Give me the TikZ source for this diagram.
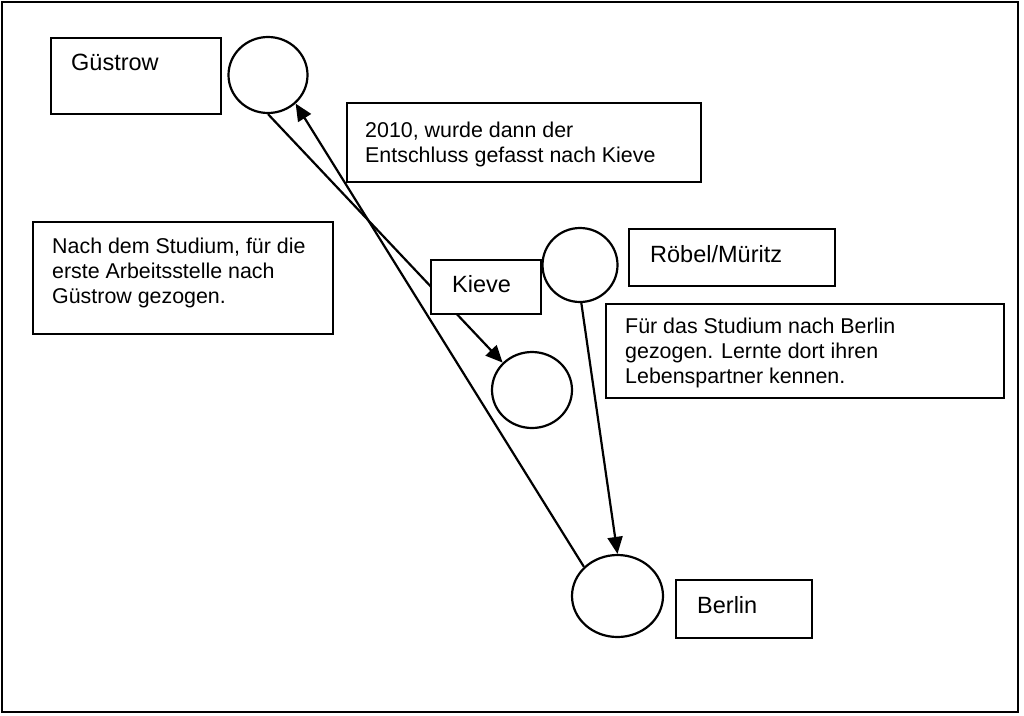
\documentclass[tikz,border=0pt]{standalone}
\usepackage{fontspec}
\setmainfont{Liberation Sans}
\usetikzlibrary{shapes.geometric,arrows.meta}
\begin{document}
\begin{tikzpicture}[x=1pt,y=-1pt,
  frame/.style={draw,line width=2.2pt},
  place/.style={ellipse,draw,line width=2.2pt,fill=white,inner sep=0pt},
  box/.style={rectangle,draw,line width=2.2pt,fill=white,anchor=north west,inner sep=0pt},
  txt/.style={anchor=base west,inner sep=0pt,align=left},
  body/.style={font=\fontsize{21.4}{25}\selectfont},
  lbl/.style={font=\fontsize{23.5}{28}\selectfont},
  arr/.style={line width=2.2pt,-{Triangle[length=17pt,width=15pt]}}]
\useasboundingbox (0,0) rectangle (1024,715);
\fill[white] (0,0) rectangle (1024,715);
\draw[frame] (2,2) rectangle (1018,712);
% circles
\node[place,minimum width=79pt,minimum height=76pt] (gc) at (268,75) {};
\node[place,minimum width=75pt,minimum height=74pt] (rc) at (580,265) {};
\node[place,minimum width=80pt,minimum height=76pt] (kc) at (532,390) {};
\node[place,minimum width=91pt,minimum height=82pt] (bc) at (617.5,596) {};
% connectors
\draw[arr] (gc.270) -- (kc.137);
\draw[arr] (bc.139) -- (gc.314);
\draw[arr] (rc.272) -- (bc.90);
% boxes
\node[box,minimum width=170pt,minimum height=76pt] (gb) at (50,37) {};
\node[txt,lbl] (gt) at (71,70) {Güstrow};
\node[box,minimum width=354pt,minimum height=79pt] (eb) at (346,102) {};
\node[txt,body] (et) at (365,162) {2010, wurde dann der\\Entschluss gefasst nach Kieve};
\node[box,minimum width=300pt,minimum height=112pt] (nb) at (32,221) {};
\node[txt,body] (nt) at (52,303) {Nach dem Studium, für die\\erste Arbeitsstelle nach\\Güstrow gezogen.};
\node[box,minimum width=110pt,minimum height=54pt] (kb) at (430,259) {};
\node[txt,lbl] (kt) at (452,292) {Kieve};
\node[box,minimum width=206pt,minimum height=57pt] (rb) at (628,228) {};
\node[txt,lbl] (rt) at (650,262) {Röbel/Müritz};
\node[box,minimum width=398pt,minimum height=94pt] (fb) at (605,303) {};
\node[txt,body] (ft) at (625,383) {Für das Studium nach Berlin\\gezogen. Lernte dort ihren\\Lebenspartner kennen.};
\node[box,minimum width=136pt,minimum height=58pt] (bb) at (675,579) {};
\node[txt,lbl] (bt) at (697,613) {Berlin};
\end{tikzpicture}
\end{document}
